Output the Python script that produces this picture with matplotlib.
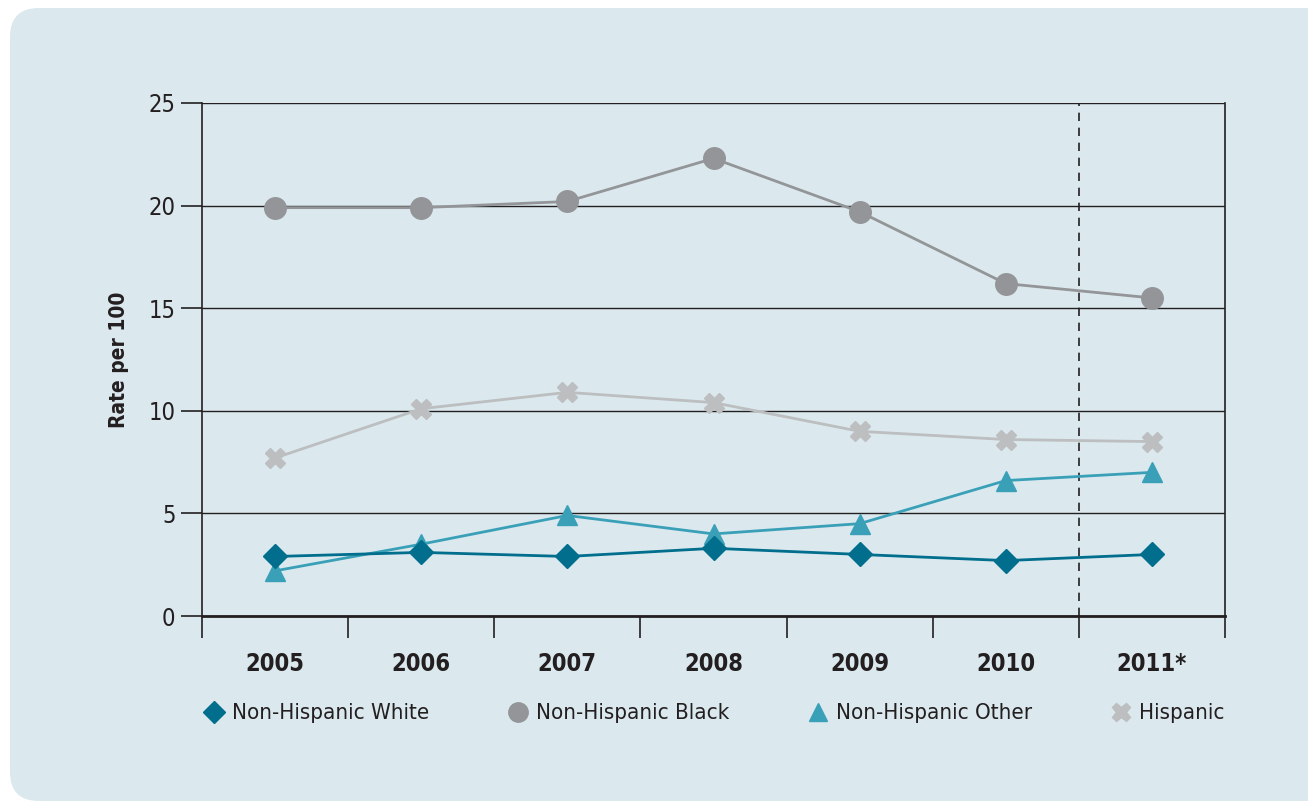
import matplotlib.pyplot as plt
from matplotlib.patches import FancyBboxPatch

years = ["2005", "2006", "2007", "2008", "2009", "2010", "2011*"]
white = [2.9, 3.1, 2.9, 3.3, 3.0, 2.7, 3.0]
black = [19.9, 19.9, 20.2, 22.3, 19.7, 16.2, 15.5]
other = [2.2, 3.5, 4.9, 4.0, 4.5, 6.6, 7.0]
hispanic = [7.7, 10.1, 10.9, 10.4, 9.0, 8.6, 8.5]

bg = "#dbe9ef"
plt.rcParams["font.family"] = ["DejaVu Sans"]
plt.rcParams["font.stretch"] = "condensed"

fig = plt.figure(figsize=(13.08, 8.01), dpi=100)
fig.patch.set_facecolor("white")
panel = FancyBboxPatch((10 / 1308, 0.0), 1.05, (801 - 8) / 801,
                       boxstyle="round,pad=0,rounding_size=0.022",
                       transform=fig.transFigure, facecolor=bg, edgecolor="none",
                       mutation_aspect=1308 / 801, zorder=-5)
fig.patches.append(panel)

ax = fig.add_axes([202 / 1308, 1 - 616 / 801, (1225 - 202) / 1308, (616 - 103) / 801])
ax.set_facecolor(bg)
x = range(len(years))

ax.plot(x, white, color="#006e8c", marker="D", markersize=12, lw=2, label="Non-Hispanic White", zorder=5)
ax.plot(x, black, color="#939598", marker="o", markersize=15.5, lw=2, label="Non-Hispanic Black", zorder=3)
ax.plot(x, other, color="#3aa0b8", marker="^", markersize=15, lw=2, label="Non-Hispanic Other", zorder=4)
ax.plot(x, hispanic, color="#bcbec0", marker="X", markersize=15, lw=2, label="Hispanic", zorder=3)

ax.set_xlim(-0.5, 6.5)
ax.set_ylim(0, 25)
ax.set_yticks([0, 5, 10, 15, 20, 25])
ax.yaxis.grid(True, color="#231f20", lw=1)
ax.set_axisbelow(True)
ax.axvline(5.5, color="#231f20", lw=1.2, ls=(0, (5, 4)), zorder=2)

ax.set_xticks([i - 0.5 for i in range(8)], minor=False)
ax.set_xticklabels([])
ax.set_xticks(list(x), minor=True)
ax.set_xticklabels(years, minor=True, fontsize=17, fontweight="bold", color="#231f20")
ax.tick_params(axis="x", which="major", length=16, width=1.2, color="#231f20")
ax.tick_params(axis="x", which="minor", length=0, pad=26)
ax.tick_params(axis="y", length=15, width=1.2, color="#231f20", labelsize=17, labelcolor="#231f20", pad=4)

for s in ["left", "right"]:
    ax.spines[s].set_color("#231f20")
    ax.spines[s].set_linewidth(1.2)
ax.spines["bottom"].set_color("#231f20")
ax.spines["bottom"].set_linewidth(2)
ax.spines["top"].set_visible(False)

ax.set_ylabel("Rate per 100", fontsize=15, fontweight="bold", color="#231f20", labelpad=14)

ax.legend(loc="center", bbox_to_anchor=(0.5, -0.19), ncol=4, frameon=False,
          fontsize=16, columnspacing=3.5, handlelength=1.0, handletextpad=0.3,
          markerscale=0.9, labelcolor="#231f20")
for h in ax.get_legend().get_lines():
    h.set_linestyle("none")

fig.savefig("out.png", dpi=100, facecolor="white")
